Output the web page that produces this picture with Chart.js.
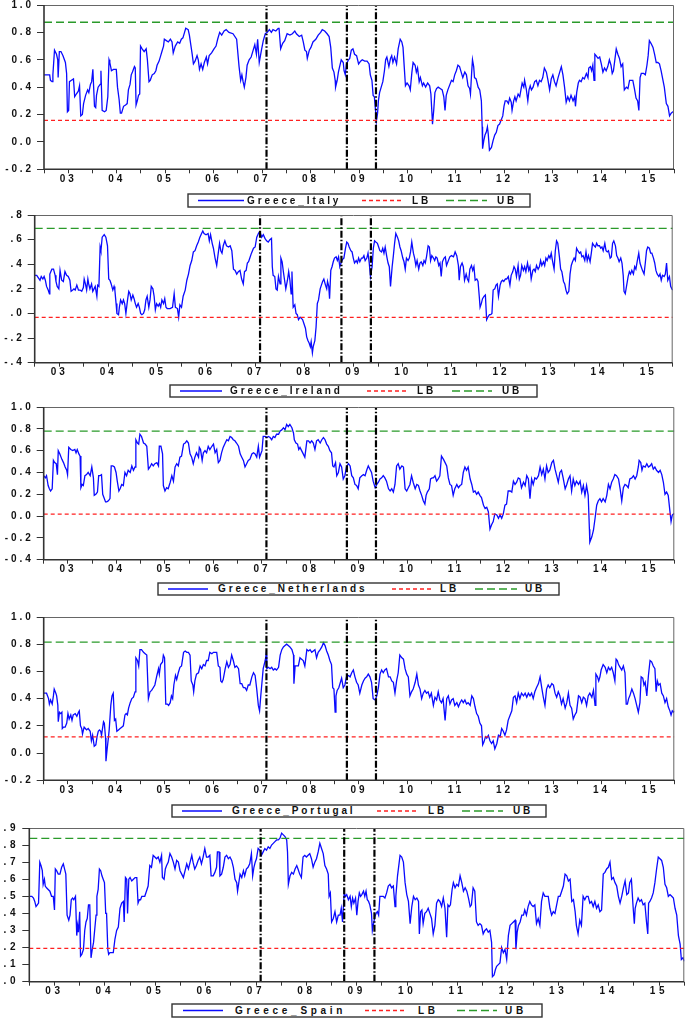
<!DOCTYPE html>
<html><head><meta charset="utf-8">
<script src="https://cdn.jsdelivr.net/npm/chart.js@4.4.1/dist/chart.umd.min.js"></script>
<style>
html,body{margin:0;padding:0;background:#fff;width:685px;height:1018px;overflow:hidden;position:relative;}
canvas{position:absolute;left:0;}
.lt{position:absolute;font:bold 10px 'Liberation Sans',Arial,sans-serif;line-height:12px;color:#111;white-space:nowrap;}
svg{position:absolute;left:0;top:0;pointer-events:none;}
</style></head><body>
<svg id="ov" width="685" height="1018"></svg>
<script>
// ---- DATA (time in months since mid-2002, value = dynamic correlation) ----
const yearLabels = ['03','04','05','06','07','08','09','10','11','12','13','14','15'];
const seriesNames = ['Greece_Italy','Greece_Ireland','Greece_Netherlands','Greece_Portugal','Greece_Spain'];
const lowerBounds = [0.158, -0.032, 0.018, 0.119, 0.195];
const upperBounds = [0.874, 0.692, 0.779, 0.815, 0.839];
const breakDates = [55.1, 75.0, 82.2];
const yTickLabels = [
  ['-0.2','0.0','0.2','0.4','0.6','0.8','1.0'],
  ['-.4','-.2','.0','.2','.4','.6','.8'],
  ['-0.4','-0.2','0.0','0.2','0.4','0.6','0.8','1.0'],
  ['-0.2','0.0','0.2','0.4','0.6','0.8','1.0'],
  ['.0','.1','.2','.3','.4','.5','.6','.7','.8','.9']
];
const yTickValues = [
  [-0.2,0,0.2,0.4,0.6,0.8,1.0],
  [-0.4,-0.2,0,0.2,0.4,0.6,0.8],
  [-0.4,-0.2,0,0.2,0.4,0.6,0.8,1.0],
  [-0.2,0,0.2,0.4,0.6,0.8,1.0],
  [0,0.1,0.2,0.3,0.4,0.5,0.6,0.7,0.8,0.9]
];

const italy = [[0,.49],[1.4,.49],[1.6,.45],[2.0,.44],[2.2,.49],[2.6,.67],[3.1,.64],[3.4,.60],[3.5,.47],[3.8,.66],[4.2,.66],[4.7,.63],[5.3,.58],[5.6,.50],[5.8,.22],[6.1,.23],[6.3,.44],[6.8,.45],[7.3,.46],[7.6,.33],[8.0,.35],[8.5,.37],[8.8,.41],[9.1,.19],[9.5,.20],[9.8,.28],[10.3,.34],[10.8,.38],[11.1,.36],[11.5,.42],[11.8,.44],[12.1,.53],[12.5,.26],[12.8,.25],[13.0,.34],[13.4,.40],[13.9,.42],[14.1,.52],[14.4,.23],[15.0,.22],[15.4,.23],[15.8,.33],[16.1,.60],[16.3,.58],[16.7,.52],[17.2,.53],[17.9,.53],[18.2,.40],[18.6,.31],[18.9,.21],[19.2,.21],[19.7,.26],[20.2,.27],[20.6,.28],[20.9,.38],[21.3,.42],[21.6,.49],[21.9,.51],[22.4,.55],[22.6,.54],[22.8,.27],[23.1,.30],[23.4,.34],[23.7,.35],[23.9,.70],[24.3,.68],[24.8,.66],[25.3,.68],[25.6,.60],[26.0,.44],[26.3,.45],[26.8,.49],[27.3,.50],[27.7,.52],[28.0,.56],[28.5,.59],[28.9,.63],[29.2,.66],[29.6,.70],[29.8,.75],[30.3,.74],[30.8,.73],[31.3,.75],[31.7,.73],[32.0,.65],[32.5,.70],[33.1,.73],[33.6,.72],[34.0,.75],[34.4,.76],[34.8,.80],[35.1,.83],[35.7,.82],[36.0,.78],[36.4,.70],[36.7,.64],[37.0,.57],[37.4,.59],[37.9,.63],[38.2,.60],[38.5,.53],[38.9,.57],[39.3,.53],[39.7,.58],[40.2,.62],[40.5,.57],[40.9,.63],[41.5,.65],[42.1,.68],[42.6,.70],[43.0,.75],[43.5,.80],[44.0,.78],[44.6,.81],[45.1,.82],[45.8,.80],
[46.8,.79],[47.7,.75],[48.3,.55],[48.7,.45],[49.0,.49],[49.3,.44],[49.6,.40],[50.0,.47],[50.3,.56],[50.8,.60],[51.3,.62],[51.8,.67],[52.2,.71],[52.6,.64],[52.9,.75],[53.3,.58],[53.6,.63],[53.9,.68],[54.3,.74],[54.8,.79],[55.3,.80],[55.8,.82],[56.3,.80],[56.7,.82],[57.4,.81],[58.0,.83],[58.2,.83],[58.6,.68],[59.1,.72],[59.6,.74],[60.2,.79],[60.9,.78],[61.5,.79],[62.1,.81],[62.5,.79],[63.2,.77],[63.8,.78],[64.2,.73],[64.6,.67],[65.0,.66],[65.2,.61],[65.7,.67],[66.1,.69],[66.6,.73],[67.3,.75],[67.9,.78],[68.5,.80],[68.9,.82],[69.5,.81],[70.1,.79],[70.6,.77],[71.0,.69],[71.4,.54],[71.8,.51],[72.1,.45],[72.2,.40],[72.6,.45],[72.9,.51],[73.2,.55],[73.6,.60],[74.1,.58],[74.3,.52],[74.6,.49],[74.9,.57],[75.4,.60],[75.7,.61],[76.1,.67],[76.5,.68],[76.9,.64],[77.4,.63],[77.9,.57],[78.4,.59],[78.8,.60],[79.4,.59],[80.0,.59],[80.5,.57],[80.8,.49],[81.2,.45],[81.5,.34],[81.8,.33],[82.1,.23],[82.3,.15],[82.6,.21],[82.8,.30],[83.1,.36],[83.5,.40],[83.9,.44],[84.3,.52],[84.6,.60],[84.9,.62],[85.4,.55],[85.8,.61],[86.1,.63],[86.4,.58],[86.8,.62],[87.3,.57],[87.7,.68],[88.2,.75],[88.6,.73],[88.9,.69],[89.2,.55],[89.5,.41],[89.9,.43],[90.4,.41],[90.7,.38],[91.1,.51],[91.4,.58],[91.9,.56],[92.2,.51],[92.5,.54],[92.9,.44],[93.2,.47],[93.7,.41],[94.0,.43],[94.5,.40],[95.0,.43],[95.5,.41],[95.8,.35],[96.1,.19],[96.2,.13],[96.5,.23],[96.8,.36],[97.2,.39],[97.6,.40],[98.1,.39],[98.6,.38],[99.0,.33],[99.3,.23],[99.6,.34],[100.0,.38],
[100.9,.45],[101.3,.44],[101.7,.49],[102.1,.52],[102.5,.56],[102.9,.55],[103.3,.51],[103.7,.47],[104.2,.51],[104.6,.49],[105.0,.41],[105.4,.39],[105.6,.35],[105.9,.51],[106.1,.60],[106.4,.55],[106.6,.47],[107.0,.46],[107.5,.40],[107.9,.38],[108.3,.30],[108.5,.11],[108.6,-.05],[108.9,.01],[109.2,.05],[109.5,.07],[109.8,.11],[110.0,.06],[110.3,-.06],[110.8,-.04],[111.2,.01],[111.6,.05],[112.0,.07],[112.4,.12],[112.8,.13],[113.2,.16],[113.6,.19],[113.9,.26],[114.2,.30],[114.6,.30],[115.0,.28],[115.3,.32],[115.7,.29],[115.9,.23],[116.3,.30],[116.6,.33],[116.9,.30],[117.4,.35],[117.8,.33],[118.1,.38],[118.4,.43],[118.8,.40],[119.0,.45],[119.4,.39],[119.8,.30],[120.1,.38],[120.4,.41],[120.7,.38],[121.1,.40],[121.5,.44],[121.9,.45],[122.3,.41],[122.7,.45],[123.1,.44],[123.5,.47],[123.9,.54],[124.4,.51],[124.8,.45],[125.2,.38],[125.6,.46],[126.0,.49],[126.4,.44],[126.8,.41],[127.3,.47],[127.7,.51],[128.1,.55],[128.5,.49],[128.9,.40],[129.3,.29],[129.7,.33],[130.1,.30],[130.5,.34],[131.0,.30],[131.4,.33],[131.6,.26],[131.9,.36],[132.3,.43],[132.6,.45],[133.0,.44],[133.4,.47],[133.8,.46],[134.3,.50],[134.7,.47],[134.9,.54],[135.3,.55],[135.6,.52],[135.9,.56],[136.2,.45],[136.4,.64],[136.7,.63],[137.2,.61],[137.6,.62],[138.0,.57],[138.4,.51],[138.8,.54],[139.2,.52],[139.6,.55],[140.0,.60],[140.4,.56],[140.7,.50],[141.0,.52],[141.4,.61],[141.7,.68],[142.1,.64],[142.5,.61],[142.9,.55],[143.3,.57],[143.7,.38],[144.2,.40],[144.6,.39],[145.0,.45],[145.4,.45],[145.8,.45],[146.2,.39],[146.6,.32],[147.0,.30],[147.3,.23],[147.6,.47],[147.9,.50],[148.5,.50],[148.9,.49],[149.3,.56],[149.6,.63],[149.9,.74],[150.3,.72],[150.8,.69],[151.2,.64],[151.6,.58],[152.0,.58],[152.4,.57],[152.8,.52],[153.2,.46],[153.6,.40],[154.1,.28],[154.5,.26],[154.9,.19],[155.3,.21],[155.7,.22],[156.0,.22]];

const ireland = [[0,.31],[0.5,.31],[0.9,.29],[1.3,.27],[1.6,.30],[2.0,.28],[2.3,.30],[2.6,.27],[2.9,.22],[3.3,.19],[3.6,.16],[3.7,.32],[4.2,.36],[4.6,.36],[5.0,.31],[5.2,.26],[5.5,.22],[5.9,.20],[6.2,.35],[6.6,.27],[7.0,.26],[7.4,.34],[7.8,.31],[8.2,.30],[8.6,.27],[8.9,.18],[9.3,.19],[9.6,.20],[9.9,.19],[10.3,.23],[10.7,.19],[11.1,.19],[11.5,.18],[11.9,.21],[12.1,.28],[12.4,.24],[12.7,.19],[13.0,.28],[13.2,.24],[13.5,.20],[13.9,.24],[14.2,.18],[14.5,.20],[14.8,.22],[15.2,.14],[15.4,.23],[15.7,.22],[16.0,.54],[16.2,.51],[16.5,.62],[17.0,.64],[17.4,.62],[17.8,.55],[18.1,.28],[18.4,.27],[18.7,.24],[19.1,.19],[19.4,.22],[19.6,.19],[19.9,.08],[20.1,.00],[20.5,-.01],[20.7,.05],[21.0,.11],[21.4,.08],[21.7,.11],[22.0,.08],[22.3,.00],[22.7,.11],[23.0,.18],[23.3,.16],[23.6,.11],[24.0,.15],[24.3,.12],[24.6,.08],[24.9,.05],[25.3,.08],[25.6,.05],[25.9,.00],[26.2,-.01],[26.6,.00],[26.9,.03],[27.2,.11],[27.5,.14],[27.9,.05],[28.2,.11],[28.5,.22],[28.9,.20],[29.2,.14],[29.5,.03],[29.8,.08],[30.2,.06],[30.5,.08],[30.8,.05],[31.1,.11],[31.5,.08],[31.8,.12],[32.1,.05],[32.4,.04],[33.1,.04],[33.7,.05],[34.1,.16],[34.4,.05],[34.9,.04],[35.2,-.03],[35.5,.07],[35.9,.05],[36.3,.14],[36.8,.19],[37.2,.27],[37.6,.32],[38.0,.39],[38.4,.43],[38.8,.50],[39.2,.51],[39.6,.55],[40.0,.58],[40.4,.62],[40.8,.65],[41.1,.67],[41.4,.65],[41.9,.64],[42.4,.65],[42.7,.59],[43.0,.64],[43.4,.57],[43.7,.53],[44.1,.45],[44.5,.39],[44.8,.47],[45.2,.57],[45.5,.51],[45.8,.49],[46.1,.55],[46.5,.59],[46.9,.55],[47.4,.54],
[47.8,.55],[48.2,.51],[48.6,.36],[49.0,.35],[49.4,.32],[49.8,.34],[50.2,.35],[50.6,.28],[51.0,.24],[51.3,.34],[51.7,.35],[52.0,.41],[52.3,.42],[52.6,.45],[53.0,.49],[53.5,.53],[53.9,.54],[54.3,.62],[54.7,.65],[54.9,.66],[55.2,.65],[55.5,.62],[55.9,.64],[56.3,.61],[56.7,.59],[57.1,.58],[57.5,.60],[57.9,.61],[58.1,.38],[58.3,.31],[58.7,.30],[59.0,.20],[59.3,.19],[59.6,.30],[60.0,.24],[60.2,.45],[60.5,.42],[60.8,.34],[61.1,.27],[61.4,.20],[61.8,.27],[62.1,.34],[62.4,.27],[62.7,.16],[62.9,.34],[63.2,.05],[63.6,.07],[63.9,.00],[64.2,-.01],[64.5,-.05],[64.9,-.03],[65.2,-.04],[65.5,-.05],[65.8,-.08],[66.2,-.12],[66.5,-.19],[66.8,-.22],[67.1,-.24],[67.4,-.27],[67.6,-.23],[67.9,-.32],[68.1,-.27],[68.5,-.22],[68.8,-.11],[69.1,.08],[69.4,.11],[69.8,.20],[70.1,.23],[70.4,.26],[70.7,.28],[71.1,.23],[71.4,.20],[71.6,.26],[71.9,.22],[72.1,.12],[72.4,.35],[72.7,.38],[73.0,.42],[73.3,.45],[73.7,.46],[74.0,.43],[74.3,.46],[74.6,.38],[75.0,.42],[75.3,.44],[75.6,.45],[76.0,.53],[76.3,.58],[76.6,.57],[76.9,.54],[77.3,.51],[77.6,.50],[77.9,.45],[78.2,.41],[78.6,.43],[78.9,.41],[79.2,.45],[79.5,.42],[79.9,.45],[80.2,.45],[80.5,.47],[80.8,.43],[81.2,.45],[81.5,.49],[81.8,.41],[82.1,.30],[82.5,.38],[82.8,.53],[83.1,.59],[83.4,.58],[83.8,.57],[84.1,.54],[84.4,.51],[84.8,.50],[85.1,.53],[85.4,.49],[85.7,.54],[86.1,.46],[86.4,.41],[86.7,.38],[87.0,.22],[87.4,.38],[87.7,.47],[88.0,.57],[88.3,.65],[88.7,.62],[89.0,.59],[89.3,.54],[89.6,.51],[90.0,.45],[90.3,.42],[90.6,.36],[90.9,.45],[91.3,.43],[91.6,.45],[91.9,.50],[92.2,.58],[92.6,.49],[92.9,.45],[93.2,.39],[93.5,.43],[93.9,.36],[94.2,.41],[94.5,.42],[94.9,.39],[95.2,.43],[95.5,.41],[95.8,.46],[96.2,.55],[96.5,.54],[96.8,.43],[97.1,.47],[97.5,.45],[97.8,.43],[98.1,.46],[98.4,.45],[98.8,.39],[99.1,.41],[99.4,.30],[99.7,.42],[100.1,.45],[100.4,.46],[100.7,.39],
[101.5,.46],[101.9,.47],[102.4,.46],[102.8,.50],[103.2,.47],[103.6,.39],[103.8,.27],[104.1,.38],[104.5,.41],[104.8,.38],[105.1,.27],[105.5,.32],[105.8,.28],[106.1,.26],[106.4,.36],[106.8,.39],[107.1,.35],[107.4,.38],[107.7,.27],[108.1,.28],[108.4,.26],[108.7,.14],[108.9,.05],[109.2,.08],[109.5,.12],[109.9,.14],[110.2,.15],[110.5,-.05],[110.8,-.03],[111.2,-.01],[111.5,-.01],[111.8,.00],[112.1,.19],[112.5,.20],[112.8,.23],[113.1,.24],[113.4,.14],[113.8,.23],[114.1,.26],[114.4,.27],[114.7,.26],[115.1,.28],[115.4,.28],[115.8,.30],[116.2,.23],[116.5,.31],[116.9,.34],[117.2,.38],[117.5,.36],[117.8,.30],[118.2,.39],[118.5,.28],[118.8,.31],[119.1,.39],[119.5,.35],[119.8,.38],[120.1,.34],[120.5,.41],[120.8,.35],[121.1,.38],[121.4,.28],[121.8,.35],[122.1,.36],[122.4,.34],[122.7,.39],[123.1,.36],[123.4,.38],[123.7,.43],[124.0,.39],[124.4,.42],[124.7,.39],[125.0,.45],[125.3,.43],[125.7,.47],[126.0,.45],[126.3,.49],[126.6,.43],[127.0,.36],[127.3,.51],[127.6,.59],[127.9,.57],[128.3,.46],[128.6,.36],[128.9,.34],[129.3,.26],[129.6,.24],[129.9,.19],[130.2,.16],[130.6,.18],[130.9,.32],[131.2,.39],[131.5,.42],[131.9,.45],[132.2,.43],[132.5,.53],[132.8,.51],[133.2,.49],[133.5,.50],[133.8,.46],[134.1,.47],[134.5,.43],[134.8,.50],[135.1,.43],[135.4,.47],[135.8,.42],[136.1,.49],[136.4,.57],[136.8,.55],[137.1,.54],[137.4,.57],[137.7,.55],[138.1,.55],[138.4,.53],[138.7,.54],[139.0,.51],[139.4,.57],[139.7,.51],[140.0,.50],[140.3,.51],[140.7,.45],[141.0,.46],[141.3,.57],[141.6,.59],[142.0,.55],[142.3,.47],[142.6,.45],[142.9,.42],[143.3,.45],[143.6,.41],[143.9,.31],[144.1,.18],[144.4,.16],[144.7,.22],[145.1,.30],[145.4,.34],[145.7,.32],[146.0,.35],[146.4,.32],[146.7,.38],[147.0,.36],[147.3,.42],[147.7,.49],[148.0,.41],[148.3,.38],[148.6,.35],[149.0,.32],[149.3,.41],[149.6,.51],[149.9,.54],[150.3,.53],[150.6,.49],[150.9,.49],[151.3,.45],[151.6,.41],[151.9,.35],[152.2,.32],[152.6,.30],[152.9,.32],[153.2,.27],[153.5,.31],[153.9,.30],[154.2,.32],[154.5,.41],[154.8,.27],[155.2,.30],[155.5,.22],[155.8,.20],[156.0,.19]];

const netherlands = [[0,.37],[0.4,.35],[0.7,.37],[1.1,.28],[1.4,.25],[1.7,.23],[2.1,.25],[2.4,.51],[2.7,.49],[3.1,.48],[3.4,.38],[3.6,.60],[4.0,.57],[4.5,.52],[4.9,.49],[5.3,.45],[5.7,.42],[5.9,.38],[6.2,.63],[6.7,.61],[7.2,.60],[7.7,.61],[8.0,.58],[8.3,.61],[8.7,.57],[9.0,.55],[9.2,.26],[9.5,.29],[9.8,.28],[10.2,.37],[10.6,.38],[11.0,.40],[11.5,.37],[11.9,.45],[12.3,.35],[12.5,.19],[12.9,.20],[13.3,.22],[13.6,.37],[13.9,.37],[14.3,.38],[14.6,.20],[14.9,.17],[15.3,.13],[15.6,.13],[16.0,.14],[16.4,.16],[16.7,.46],[17.1,.46],[17.5,.45],[17.9,.40],[18.2,.32],[18.6,.23],[18.9,.25],[19.3,.29],[19.7,.28],[20.1,.40],[20.5,.37],[20.9,.42],[21.4,.40],[21.8,.46],[22.2,.42],[22.6,.45],[22.8,.70],[23.2,.67],[23.5,.66],[23.8,.75],[24.2,.73],[24.7,.67],[25.1,.66],[25.5,.64],[25.9,.43],[26.3,.45],[26.7,.48],[27.1,.46],[27.5,.48],[28.0,.49],[28.4,.46],[28.6,.64],[29.0,.64],[29.4,.57],[29.6,.28],[30.0,.23],[30.4,.26],[30.8,.25],[31.3,.31],[31.7,.37],[32.1,.32],[32.5,.45],[32.9,.48],[33.3,.46],[33.7,.54],[34.1,.55],[34.6,.66],[35.0,.67],[35.4,.69],[35.8,.67],[36.2,.57],[36.6,.54],[37.0,.48],[37.4,.54],[37.8,.58],[38.3,.54],[38.5,.63],[38.8,.61],[39.2,.51],[39.5,.58],[39.9,.60],[40.3,.58],[40.7,.64],[41.1,.61],[41.6,.64],[42.0,.66],[42.4,.58],[42.8,.61],[43.2,.49],[43.6,.51],[44.0,.58],[44.4,.63],[44.9,.67],[45.3,.70],[45.7,.69],[46.1,.73],[46.5,.72],[46.9,.70],[47.3,.69],[47.7,.67],[48.2,.64],[48.6,.57],[49.0,.54],[49.4,.51],[49.8,.45],[50.2,.48],[50.6,.51],[51.0,.52],[51.5,.57],[51.9,.58],[52.3,.57],[52.7,.54],[53.1,.64],[53.4,.54],[53.7,.57],[54.0,.60],[54.3,.73],[54.8,.73],[55.2,.72],[55.6,.73],[56.0,.72],[56.4,.70],[56.8,.73],[57.2,.72],[57.6,.75],[58.1,.75],[58.5,.78],[58.9,.79],[59.3,.81],[59.7,.79],[60.1,.84],[60.5,.82],[60.9,.84],[61.4,.81],[61.8,.76],[62.0,.70],[62.4,.67],[62.8,.66],[63.1,.61],[63.4,.63],[63.8,.60],[64.2,.57],[64.6,.54],[65.1,.69],[65.5,.69],[65.9,.67],[66.3,.69],[66.7,.67],[67.1,.61],[67.5,.69],[67.9,.70],[68.4,.67],[68.8,.70],[69.2,.72],[69.6,.70],[70.0,.66],[70.4,.64],[70.8,.60],[71.2,.58],[71.5,.46],[71.8,.45],[72.2,.49],[72.5,.37],[72.9,.40],
[73.3,.48],[73.7,.45],[74.1,.34],[74.5,.37],[74.9,.45],[75.4,.48],[75.8,.46],[76.2,.37],[76.6,.35],[77.0,.29],[77.4,.28],[77.8,.25],[78.2,.35],[78.7,.37],[79.1,.38],[79.5,.37],[79.9,.42],[80.3,.46],[80.7,.43],[81.1,.40],[81.5,.32],[82.0,.26],[82.4,.29],[82.8,.31],[83.2,.34],[83.6,.35],[84.0,.37],[84.4,.35],[84.8,.32],[85.3,.25],[85.7,.23],[86.1,.25],[86.5,.22],[86.9,.29],[87.3,.46],[87.7,.48],[88.1,.43],[88.6,.46],[89.0,.45],[89.4,.25],[89.8,.23],[90.2,.26],[90.6,.29],[91.0,.37],[91.4,.31],[91.9,.25],[92.3,.29],[92.7,.28],[93.1,.23],[93.5,.19],[93.9,.14],[94.3,.11],[94.6,.19],[94.9,.22],[95.4,.25],[95.7,.34],[96.1,.35],[96.4,.35],[96.8,.37],[97.2,.32],[97.6,.34],[98.0,.37],[98.4,.55],[98.9,.52],[99.3,.49],[99.7,.46],[100.1,.35],[100.5,.29],[100.9,.28],[101.3,.19],[101.7,.25],[102.2,.29],[102.6,.26],[103.0,.28],[103.4,.29],[103.8,.40],[104.2,.45],[104.6,.42],[105.0,.45],[105.5,.34],[105.9,.29],[106.3,.22],[106.7,.23],[107.1,.20],[107.5,.22],[107.9,.19],[108.3,.17],[108.8,.10],[109.2,.07],[109.6,.08],[110.0,.04],[110.4,-.12],[110.8,-.08],[111.2,-.05],[111.6,.02],[112.1,.01],[112.5,-.02],[112.9,.01],[113.3,-.02],[113.7,.02],[114.1,.10],[114.5,.11],[114.9,.23],[115.4,.23],[115.8,.22],[116.2,.32],[116.6,.29],[117.0,.31],[117.4,.35],[117.8,.34],[118.2,.26],[118.7,.31],[119.1,.28],[119.5,.37],[119.9,.34],[120.3,.16],[120.7,.34],[121.1,.29],[121.5,.35],[121.9,.34],[122.4,.37],[122.8,.45],[123.2,.38],[123.6,.43],[124.0,.34],[124.4,.46],[124.8,.40],[125.2,.42],[125.7,.49],[126.1,.51],[126.5,.43],[126.9,.37],[127.3,.31],[127.7,.40],[128.1,.42],[128.5,.35],[129.0,.25],[129.4,.29],[129.8,.34],[130.2,.37],[130.6,.23],[131.0,.34],[131.4,.28],[131.8,.32],[132.3,.29],[132.7,.32],[133.1,.22],[133.5,.28],[133.9,.19],[134.3,.28],[134.7,.19],[135.0,-.12],[135.1,-.24],[135.6,-.19],[136.0,-.13],[136.4,-.02],[136.8,.10],[137.2,.14],[137.6,.16],[138.0,.13],[138.4,.16],[138.9,.13],[139.3,.19],[139.7,.29],[140.1,.25],[140.5,.31],[140.9,.34],[141.3,.38],[141.7,.37],[142.2,.34],[142.6,.25],[143.0,.14],[143.4,.26],[143.8,.29],[144.2,.28],[144.6,.26],[145.0,.34],[145.5,.35],[145.9,.37],[146.3,.34],[146.7,.37],[147.1,.45],[147.3,.51],[147.7,.49],[148.0,.42],[148.3,.46],[148.8,.45],[149.2,.48],[149.6,.45],[150.0,.46],[150.4,.48],[150.8,.43],[151.2,.45],[151.6,.42],[152.1,.40],[152.5,.42],[152.9,.38],[153.3,.31],[153.7,.20],[154.1,.22],[154.5,.19],[154.9,.05],[155.2,-.05],[155.5,.01],[155.8,.02],[156.0,.02]];

const portugal = [[0,.44],[0.4,.44],[0.7,.44],[1.2,.40],[1.4,.36],[1.7,.39],[2.1,.36],[2.4,.42],[2.6,.47],[3.0,.44],[3.2,.42],[3.5,.35],[3.6,.23],[3.9,.30],[4.2,.29],[4.5,.30],[4.6,.18],[4.9,.19],[5.3,.19],[5.7,.22],[6.0,.29],[6.3,.25],[6.7,.28],[7.0,.24],[7.3,.28],[7.8,.29],[8.2,.27],[8.6,.30],[8.8,.31],[9.1,.20],[9.4,.18],[9.6,.14],[10.0,.19],[10.3,.18],[10.6,.17],[11.0,.18],[11.5,.16],[11.8,.09],[12.1,.13],[12.5,.05],[12.9,.06],[13.2,.12],[13.5,.16],[13.8,.17],[14.1,.16],[14.3,.13],[14.8,.23],[15.0,.22],[15.3,.11],[15.4,-.06],[15.7,.03],[16.0,.11],[16.2,.17],[16.6,.35],[16.9,.42],[17.2,.44],[17.5,.24],[17.8,.25],[18.1,.16],[18.5,.17],[18.9,.18],[19.3,.19],[19.7,.20],[20.1,.28],[20.4,.29],[20.7,.28],[21.0,.33],[21.4,.37],[21.8,.40],[22.2,.41],[22.6,.45],[22.8,.70],[23.2,.68],[23.5,.64],[23.8,.76],[24.2,.76],[24.7,.74],[25.1,.73],[25.5,.72],[25.9,.40],[26.3,.45],[26.7,.46],[27.1,.48],[27.5,.50],[28.0,.57],[28.4,.62],[28.6,.58],[28.9,.65],[29.4,.67],[29.6,.72],[29.9,.70],[30.2,.36],[30.6,.36],[30.9,.35],[31.3,.37],[31.6,.42],[31.9,.40],[32.2,.50],[32.6,.57],[32.9,.54],[33.3,.59],[33.7,.63],[34.1,.64],[34.6,.74],[35.0,.75],[35.4,.74],[35.8,.74],[36.2,.72],[36.5,.53],[36.9,.50],[37.1,.45],[37.4,.53],[37.8,.58],[38.3,.59],[38.7,.64],[39.1,.62],[39.5,.65],[39.9,.64],[40.3,.68],[40.7,.68],[41.1,.74],[41.6,.73],[42.0,.74],[42.4,.74],[42.8,.74],[43.2,.64],[43.6,.63],[43.8,.53],[44.1,.52],[44.4,.54],[44.9,.62],[45.3,.67],[45.7,.63],[46.1,.65],[46.5,.72],[46.9,.68],[47.3,.63],[47.7,.64],[48.2,.62],[48.6,.51],[49.0,.51],[49.4,.48],[49.8,.48],[50.2,.46],[50.6,.50],[51.0,.50],[51.5,.56],[51.9,.59],[52.3,.57],[52.7,.47],[53.1,.35],[53.4,.31],[53.7,.42],[54.0,.52],[54.3,.62],[54.8,.68],[55.0,.72],[55.2,.62],[55.6,.63],[56.0,.62],[56.4,.63],[56.8,.61],[57.2,.62],[57.6,.61],[58.1,.63],[58.5,.72],[58.9,.76],[59.3,.78],[59.7,.79],[60.1,.80],[60.5,.79],[60.9,.78],[61.4,.76],[61.8,.72],[61.9,.51],[62.2,.64],[62.6,.64],[63.0,.64],[63.4,.70],[63.8,.69],[64.2,.68],[64.6,.64],[65.1,.76],[65.5,.75],[65.9,.76],[66.3,.74],[66.7,.75],[67.1,.76],[67.5,.70],[67.9,.74],[68.4,.76],[68.8,.78],[69.2,.81],[69.6,.79],[70.0,.75],[70.4,.72],[70.8,.68],[71.2,.65],[71.5,.48],[71.8,.47],[72.1,.30],[72.3,.42],[72.6,.46],[73.0,.48],
[73.7,.55],[74.1,.48],[74.5,.50],[74.9,.56],[75.4,.57],[75.8,.56],[76.2,.59],[76.6,.61],[77.0,.56],[77.4,.52],[77.8,.50],[78.2,.44],[78.7,.50],[79.1,.53],[79.5,.55],[79.9,.56],[80.3,.58],[80.7,.56],[81.1,.52],[81.5,.40],[82.0,.39],[82.4,.42],[82.8,.48],[83.2,.58],[83.6,.61],[84.0,.59],[84.4,.61],[84.8,.62],[85.3,.56],[85.7,.56],[86.1,.53],[86.5,.52],[86.9,.44],[87.3,.53],[87.7,.59],[88.1,.72],[88.6,.70],[89.0,.69],[89.4,.62],[89.8,.58],[90.2,.56],[90.6,.42],[91.0,.45],[91.4,.47],[91.9,.52],[92.3,.58],[92.7,.50],[93.1,.47],[93.5,.40],[93.9,.44],[94.3,.46],[94.7,.44],[95.1,.45],[95.5,.41],[95.9,.44],[96.4,.35],[96.8,.41],[97.2,.39],[97.6,.45],[98.0,.39],[98.4,.37],[98.8,.40],[99.3,.24],[99.7,.40],[100.1,.42],[100.5,.36],[100.9,.39],[101.3,.40],[101.7,.35],[102.2,.37],[102.6,.34],[103.0,.37],[103.4,.39],[103.8,.37],[104.2,.39],[104.6,.36],[105.0,.37],[105.5,.35],[105.9,.42],[106.3,.40],[106.7,.34],[107.1,.29],[107.5,.27],[107.9,.22],[108.3,.20],[108.6,.06],[108.9,.08],[109.3,.12],[109.6,.11],[110.0,.13],[110.4,.09],[110.8,.07],[111.2,.09],[111.6,.03],[112.1,.07],[112.5,.13],[112.9,.12],[113.3,.18],[113.7,.16],[114.1,.13],[114.5,.17],[114.9,.24],[115.4,.28],[115.8,.31],[116.2,.41],[116.6,.42],[117.0,.37],[117.4,.44],[117.8,.40],[118.2,.44],[118.7,.42],[119.1,.44],[119.5,.41],[119.9,.44],[120.3,.42],[120.7,.44],[121.1,.40],[121.5,.45],[121.9,.48],[122.4,.51],[122.8,.56],[123.2,.48],[123.6,.41],[124.0,.35],[124.4,.47],[124.8,.50],[125.2,.48],[125.7,.51],[126.1,.50],[126.5,.44],[126.9,.41],[127.3,.45],[127.7,.42],[128.1,.36],[128.5,.40],[129.0,.33],[129.4,.37],[129.8,.44],[130.2,.35],[130.6,.33],[131.0,.25],[131.4,.28],[131.8,.30],[132.3,.42],[132.7,.41],[133.1,.37],[133.5,.41],[133.9,.40],[134.3,.35],[134.7,.42],[135.1,.44],[135.6,.41],[136.0,.46],[136.4,.35],[136.6,.58],[137.0,.56],[137.3,.53],[137.6,.56],[137.9,.61],[138.4,.65],[138.9,.63],[139.3,.59],[139.7,.63],[140.1,.61],[140.5,.63],[140.9,.59],[141.3,.53],[141.6,.69],[141.9,.68],[142.2,.65],[142.6,.63],[143.0,.61],[143.4,.64],[143.8,.59],[144.1,.36],[144.4,.36],[144.7,.40],[145.0,.42],[145.5,.47],[145.9,.44],[146.3,.40],[146.7,.35],[147.1,.30],[147.5,.37],[147.8,.56],[148.2,.55],[148.5,.50],[148.8,.52],[149.2,.42],[149.6,.57],[150.0,.68],[150.4,.67],[150.8,.64],[151.2,.62],[151.5,.45],[151.8,.53],[152.1,.50],[152.5,.51],[152.9,.44],[153.3,.42],[153.7,.37],[154.1,.40],[154.5,.34],[154.9,.31],[155.2,.28],[155.5,.31],[155.8,.30],[156.0,.31]];

const spain = [[0,.50],[0.6,.50],[1.0,.49],[1.3,.47],[1.6,.44],[1.9,.45],[2.2,.46],[2.5,.70],[2.8,.68],[3.1,.65],[3.3,.57],[3.6,.60],[3.8,.56],[4.1,.55],[4.5,.54],[4.9,.53],[5.3,.50],[5.7,.50],[6.0,.42],[6.2,.66],[6.5,.65],[6.9,.63],[7.3,.63],[7.7,.67],[8.1,.69],[8.5,.65],[8.7,.63],[9.0,.39],[9.4,.36],[9.7,.39],[10.0,.48],[10.3,.49],[10.6,.48],[11.0,.50],[11.3,.27],[11.5,.33],[11.7,.29],[12.0,.41],[12.2,.15],[12.5,.16],[12.9,.19],[13.2,.30],[13.5,.35],[13.8,.37],[14.1,.45],[14.4,.45],[14.7,.14],[15.0,.19],[15.3,.23],[15.6,.31],[15.9,.39],[16.1,.50],[16.4,.54],[16.7,.66],[17.0,.65],[17.3,.62],[17.6,.60],[17.9,.58],[18.2,.40],[18.4,.40],[18.7,.19],[18.9,.16],[19.2,.17],[19.6,.17],[20.0,.17],[20.4,.25],[20.8,.30],[21.2,.32],[21.6,.43],[22.0,.46],[22.4,.47],[22.6,.35],[22.9,.61],[23.2,.60],[23.4,.40],[23.7,.60],[24.0,.61],[24.4,.59],[24.8,.60],[25.2,.61],[25.6,.61],[25.9,.46],[26.2,.48],[26.5,.48],[26.8,.50],[27.1,.50],[27.5,.50],[27.9,.53],[28.3,.56],[28.7,.68],[29.1,.67],[29.5,.74],[29.9,.73],[30.3,.72],[30.7,.73],[31.1,.70],[31.5,.74],[31.7,.61],[32.1,.60],[32.4,.66],[32.7,.68],[33.1,.70],[33.5,.75],[33.9,.73],[34.3,.70],[34.7,.66],[35.1,.71],[35.5,.70],[35.9,.65],[36.3,.63],[36.7,.61],[37.1,.65],[37.5,.69],[37.9,.66],[38.3,.70],[38.7,.74],[39.0,.70],[39.4,.66],[39.8,.68],[40.2,.71],[40.6,.73],[41.0,.69],[41.4,.73],[41.8,.78],[42.2,.73],[42.6,.73],[43.0,.74],[43.3,.62],[43.6,.62],[43.8,.62],[44.2,.64],[44.6,.67],[44.8,.76],[45.2,.76],[45.4,.62],[45.8,.63],[46.2,.67],[46.6,.73],[47.0,.74],[47.4,.72],[47.8,.73],[48.2,.71],[48.6,.67],[49.0,.60],[49.4,.58],[49.6,.53],[49.9,.58],[50.2,.63],[50.6,.61],[51.0,.65],[51.3,.62],[51.7,.66],[52.1,.67],[52.5,.69],[52.9,.75],[53.2,.62],[53.5,.67],[53.8,.70],[54.1,.72],[54.5,.78],[54.9,.77],[55.3,.74],[55.7,.76],[56.1,.78],[56.5,.77],[56.9,.79],[57.3,.78],[57.7,.80],[58.1,.81],[58.5,.82],[58.9,.83],[59.3,.83],[59.7,.84],[60.1,.87],[60.5,.86],[60.9,.85],[61.3,.83],[61.5,.76],[61.7,.57],[62.1,.62],[62.5,.64],[62.9,.63],[63.3,.66],[63.7,.68],[64.0,.66],[64.4,.63],[64.8,.61],[65.2,.73],[65.6,.74],[66.0,.73],[66.4,.74],[66.8,.75],[67.2,.72],[67.6,.67],[68.0,.70],[68.4,.72],[68.8,.76],[69.2,.81],[69.6,.78],[70.0,.75],[70.4,.68],[70.8,.66],[71.2,.63],[71.4,.50],[71.7,.52],[72.0,.35],[72.4,.37],[72.8,.41],[73.2,.35],[73.6,.39],
[74.0,.39],[74.3,.43],[74.6,.35],[75.0,.52],[75.3,.50],[75.6,.51],[76.0,.48],[76.4,.50],[76.7,.44],[77.0,.49],[77.3,.46],[77.7,.49],[78.0,.39],[78.3,.47],[78.6,.52],[78.9,.50],[79.2,.51],[79.6,.53],[79.9,.50],[80.2,.53],[80.5,.48],[80.8,.47],[81.1,.45],[81.5,.40],[81.7,.30],[81.9,.33],[82.3,.38],[82.6,.40],[82.9,.41],[83.2,.39],[83.5,.50],[83.9,.50],[84.3,.50],[84.7,.49],[85.1,.52],[85.5,.56],[85.9,.57],[86.3,.55],[86.7,.56],[87.1,.44],[87.3,.50],[87.7,.62],[88.0,.68],[88.3,.74],[88.7,.73],[89.1,.70],[89.5,.58],[89.9,.51],[90.3,.47],[90.7,.34],[91.1,.44],[91.5,.50],[91.9,.48],[92.3,.49],[92.7,.47],[92.9,.28],[93.2,.41],[93.5,.42],[93.8,.34],[94.2,.40],[94.6,.41],[95.0,.43],[95.4,.40],[95.8,.37],[96.2,.28],[96.6,.33],[97.0,.46],[97.4,.48],[97.8,.47],[98.2,.44],[98.6,.49],[99.0,.43],[99.4,.26],[99.7,.45],[100.0,.44],[100.3,.45],[100.7,.54],[101.0,.58],[101.4,.55],[101.8,.57],[102.2,.56],[102.6,.62],[103.0,.58],[103.4,.53],[103.8,.55],[104.2,.53],[104.6,.49],[105.0,.44],[105.3,.45],[105.7,.55],[106.1,.53],[106.5,.35],[106.9,.33],[107.3,.34],[107.7,.33],[108.1,.28],[108.5,.30],[108.9,.31],[109.3,.29],[109.7,.30],[110.1,.23],[110.3,.03],[110.7,.04],[111.0,.07],[111.3,.09],[111.7,.10],[112.1,.11],[112.5,.20],[112.9,.17],[113.3,.19],[113.7,.13],[114.1,.27],[114.5,.33],[114.9,.34],[115.3,.35],[115.7,.36],[115.9,.19],[116.2,.29],[116.5,.33],[116.9,.35],[117.3,.39],[117.7,.39],[118.0,.42],[118.4,.39],[118.8,.44],[119.2,.47],[119.6,.45],[120.0,.44],[120.4,.45],[120.8,.34],[121.2,.37],[121.6,.33],[122.0,.47],[122.4,.52],[122.8,.50],[123.2,.50],[123.6,.50],[124.0,.43],[124.4,.39],[124.8,.41],[125.2,.40],[125.6,.45],[126.0,.50],[126.4,.50],[126.8,.53],[127.2,.56],[127.6,.63],[128.0,.62],[128.4,.59],[128.8,.60],[129.2,.47],[129.6,.48],[130.0,.41],[130.3,.33],[130.7,.28],[131.1,.36],[131.5,.33],[131.9,.50],[132.3,.48],[132.7,.50],[133.1,.50],[133.5,.46],[133.9,.47],[134.3,.44],[134.7,.47],[135.1,.43],[135.5,.45],[135.9,.41],[136.3,.42],[136.7,.63],[137.1,.64],[137.5,.66],[137.9,.67],[138.3,.70],[138.7,.60],[139.1,.61],[139.5,.58],[139.9,.56],[140.3,.50],[140.7,.46],[141.1,.50],[141.5,.55],[141.9,.59],[142.3,.51],[142.7,.52],[143.0,.58],[143.4,.60],[143.8,.44],[144.1,.34],[144.3,.43],[144.6,.46],[145.0,.49],[145.4,.47],[145.8,.48],[146.2,.45],[146.6,.46],[147.0,.35],[147.3,.28],[147.5,.46],[147.8,.47],[148.2,.49],[148.6,.52],[149.0,.58],[149.4,.66],[149.8,.73],[150.2,.72],[150.6,.71],[151.0,.67],[151.4,.57],[151.8,.55],[152.2,.50],[152.6,.51],[153.0,.50],[153.4,.49],[153.8,.43],[154.2,.39],[154.6,.27],[155.0,.22],[155.3,.13],[155.7,.14],[156.0,.12]];

const allSeries = [italy, ireland, netherlands, portugal, spain];

// ---- LAYOUT (pixel geometry, not data) ----
const plotAreas = [
  {l:44,   t:4.5,   r:674,   b:169.3, cTop:-4,  cH:196},
  {l:34.7, t:214.7, r:672.7, b:362.7, cTop:206, cH:180},
  {l:43.7, t:406,   r:674.3, b:559.7, cTop:398, cH:184},
  {l:43.7, t:616,   r:674.3, b:780.2, cTop:608, cH:195},
  {l:29.3, t:827.3, r:684.3, b:981.7, cTop:819, cH:185}
];
const legendLayout = [
  {box:[188,194,530,207], blue:[198,244], red:[362,403], green:[446,487], tx:[247,412,497], ls:2.9},
  {box:[170,385,537,397], blue:[180,222], red:[367,407], green:[452,492], tx:[230,417,502], ls:2.9},
  {box:[158,583,559,595], blue:[168,208], red:[392,432], green:[475,517], tx:[218,440,525], ls:2.9},
  {box:[172,805,546,817], blue:[182,222], red:[377,418], green:[462,503], tx:[232,428,513], ls:2.9},
  {box:[172,1004,542,1017], blue:[183,223], red:[365,405], green:[457,497], tx:[235,418,505], ls:3.7}
];
const FONT = "'Liberation Sans', Arial, Helvetica, sans-serif";
const BLUE = '#0a0aff', RED = '#ff2020', GREEN = '#2a9a2a';
const T_MAX = 156;

const spacingPlugin = {
  id: 'spacing',
  beforeDraw(chart) { try { chart.ctx.letterSpacing = chart.options.plugins.spacing.ls + 'px'; } catch (e) {} }
};
const framePlugin = {
  id: 'frame',
  afterDraw(chart) {
    const a = chart.chartArea, c = chart.ctx;
    c.save();
    c.lineWidth = 1; c.strokeStyle = '#666';
    c.beginPath(); c.moveTo(a.left, a.top + 0.5); c.lineTo(a.right - 0.5, a.top + 0.5); c.lineTo(a.right - 0.5, a.bottom); c.stroke();
    c.lineWidth = 1.6; c.strokeStyle = '#333';
    c.beginPath(); c.moveTo(a.left, a.top); c.lineTo(a.left, a.bottom); c.lineTo(a.right, a.bottom); c.stroke();
    c.restore();
  }
};

allSeries.forEach((series, i) => {
  const g = plotAreas[i];
  const yVals = yTickValues[i], yLabs = yTickLabels[i];
  const yMin = yVals[0], yMax = yVals[yVals.length - 1];
  const cv = document.createElement('canvas');
  cv.width = 685; cv.height = g.cH;
  cv.style.top = g.cTop + 'px';
  cv.style.width = '685px'; cv.style.height = g.cH + 'px';
  document.body.appendChild(cv);
  const xAxisH = g.cH - (g.b - g.cTop);
  const datasets = [
    {data: series.map(p => ({x: p[0], y: p[1]})), borderColor: BLUE, borderWidth: 1.3, pointRadius: 0, tension: 0, order: 3},
    {data: [{x: 0, y: lowerBounds[i]}, {x: T_MAX, y: lowerBounds[i]}], borderColor: RED, borderDash: [4, 3], borderWidth: 1.2, pointRadius: 0, order: 2},
    {data: [{x: 0, y: upperBounds[i]}, {x: T_MAX, y: upperBounds[i]}], borderColor: GREEN, borderDash: [8, 4], borderWidth: 1.3, pointRadius: 0, order: 2}
  ];
  breakDates.forEach(d => datasets.push({data: [{x: d, y: yMin}, {x: d, y: yMax}], borderColor: '#000', borderDash: [7, 2, 1.5, 2], borderWidth: 2.2, pointRadius: 0, order: 1}));
  new Chart(cv, {
    type: 'line',
    data: {datasets},
    plugins: [spacingPlugin, framePlugin],
    options: {
      responsive: false, animation: false, events: [],
      layout: {padding: {top: g.t - g.cTop, right: 685 - g.r, left: 0, bottom: 0}},
      plugins: {legend: {display: false}, tooltip: {enabled: false}, spacing: {ls: legendLayout[i].ls}},
      scales: {
        x: {
          type: 'linear', min: 0, max: T_MAX,
          afterFit: s => { s.height = xAxisH; },
          afterBuildTicks: s => { const t = []; for (let v = 0; v <= T_MAX; v += 6) t.push({value: v}); s.ticks = t; },
          ticks: {autoSkip: false, maxRotation: 0, minRotation: 0, padding: 0, color: '#111', font: {family: FONT, size: 10, weight: 'bold'},
            callback: v => ((v - 6) % 12 === 0 ? yearLabels[(v - 6) / 12] : '')},
          grid: {drawOnChartArea: false, drawTicks: true, tickLength: 4, color: '#333', lineWidth: 1},
          border: {display: false}
        },
        y: {
          type: 'linear', min: yMin, max: yMax,
          afterFit: s => { s.width = g.l; },
          afterBuildTicks: s => { s.ticks = yVals.map(v => ({value: v})); },
          ticks: {padding: 3, color: '#111', font: {family: FONT, size: 10, weight: 'bold'}, callback: (v, idx) => yLabs[idx]},
          grid: {drawOnChartArea: false, drawTicks: true, tickLength: 7, color: '#333', lineWidth: 1},
          border: {display: false}
        }
      }
    }
  });
});

// ---- legends ----
const svg = document.getElementById('ov');
const NS = 'http://www.w3.org/2000/svg';
function line(x1, y, x2, color, dash, w) {
  const l = document.createElementNS(NS, 'line');
  l.setAttribute('x1', x1); l.setAttribute('x2', x2); l.setAttribute('y1', y); l.setAttribute('y2', y);
  l.setAttribute('stroke', color); l.setAttribute('stroke-width', w);
  if (dash) l.setAttribute('stroke-dasharray', dash);
  svg.appendChild(l);
}
legendLayout.forEach((L, i) => {
  const [x1, y1, x2, y2] = L.box; const cy = (y1 + y2) / 2;
  const r = document.createElementNS(NS, 'rect');
  r.setAttribute('x', x1); r.setAttribute('y', y1); r.setAttribute('width', x2 - x1); r.setAttribute('height', y2 - y1);
  r.setAttribute('fill', '#fff'); r.setAttribute('stroke', '#333'); r.setAttribute('stroke-width', 1.4);
  svg.appendChild(r);
  line(L.blue[0], cy, L.blue[1], BLUE, null, 1.4);
  line(L.red[0], cy, L.red[1], RED, '4 3', 1.3);
  line(L.green[0], cy, L.green[1], GREEN, '8 4', 1.4);
  const texts = [seriesNames[i], 'LB', 'UB'];
  texts.forEach((t, k) => {
    const d = document.createElement('div');
    d.className = 'lt'; d.textContent = t;
    d.style.left = L.tx[k] + 'px'; d.style.top = (cy - 6) + 'px';
    d.style.letterSpacing = L.ls + 'px';
    document.body.appendChild(d);
  });
});
</script></body></html>
